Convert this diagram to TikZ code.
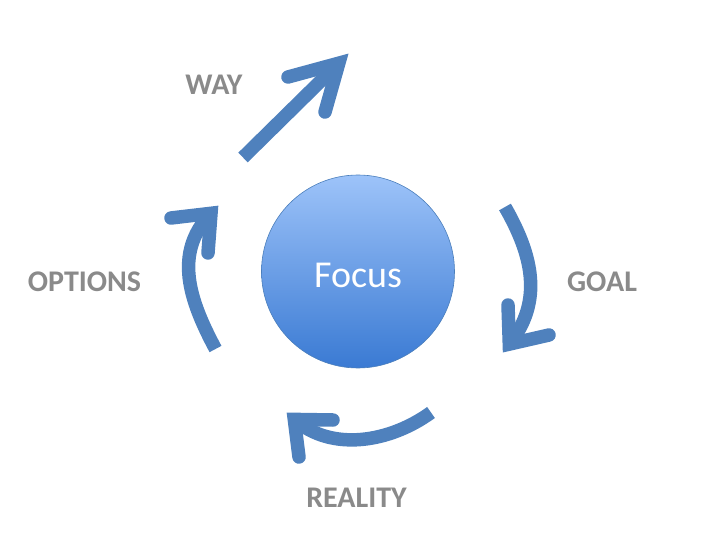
\documentclass[tikz,border=0pt]{standalone}
\usepackage{fontspec}
\setmainfont{Carlito}
\definecolor{arrowblue}{HTML}{4F81BD}
\definecolor{labelgray}{HTML}{8A8A8A}
\definecolor{focustop}{HTML}{9DC3F9}
\definecolor{focusbot}{HTML}{3A7AD3}
\definecolor{focusedge}{HTML}{4A7EBB}
\tikzset{
  shaft/.style={draw=arrowblue, line width=13.5pt, line cap=butt},
  chevron/.style={draw=arrowblue, line width=13.5pt, line cap=round, line join=miter, miter limit=10},
  steplabel/.style={anchor=base, inner sep=0pt, text=labelgray, font=\bfseries\fontsize{30}{30}\selectfont},
}
\begin{document}
\begin{tikzpicture}[x=1pt, y=-1pt]
\useasboundingbox (0,0) rectangle (720,540);
% central circle
\node[circle, minimum size=193pt, inner sep=0pt, top color=focustop, bottom color=focusbot, draw=focusedge, line width=0.6pt] (focus) at (358,271.5) {};
\node[anchor=base, inner sep=0pt, text=white, font=\fontsize{38}{38}\selectfont] (focustext) at (358,287) {Focus};
% labels
\node[steplabel] (way) at (214,95) {WAY};
\node[steplabel] (options) at (84.5,291) {OPTIONS};
\node[steplabel] (goal) at (602,291) {GOAL};
\node[steplabel] (reality) at (356.5,507) {REALITY};
% WAY arrow
\coordinate (wayS) at (243,157.5);
\coordinate (wayV) at (338.8,63.2);
\coordinate (wayA) at (288,77);
\coordinate (wayB) at (325,112);
\draw[shaft] (wayS) -- (wayV);
\draw[chevron] (wayA) -- (wayV) -- (wayB);
% GOAL arrow
\coordinate (goalS) at (505,207);
\coordinate (goalV) at (509.3,344.1);
\coordinate (goalA) at (508,305);
\coordinate (goalB) at (549,335);
\draw[shaft] (goalS) .. controls (532.5,254.9) and (543.6,301.1) .. (goalV);
\draw[chevron] (goalA) -- (goalV) -- (goalB);
% REALITY arrow
\coordinate (realS) at (431,412.5);
\coordinate (realV) at (294.3,419.4);
\coordinate (realA) at (333,420);
\coordinate (realB) at (299,457);
\draw[shaft] (realS) .. controls (390.5,442) and (331.9,452.5) .. (realV);
\draw[chevron] (realA) -- (realV) -- (realB);
% OPTIONS arrow
\coordinate (optS) at (215.5,349);
\coordinate (optV) at (211,213.3);
\coordinate (optA) at (171,218);
\coordinate (optB) at (208,253);
\draw[shaft] (optS) .. controls (189.6,300.6) and (172.8,252.8) .. (optV);
\draw[chevron] (optA) -- (optV) -- (optB);
\end{tikzpicture}
\end{document}
